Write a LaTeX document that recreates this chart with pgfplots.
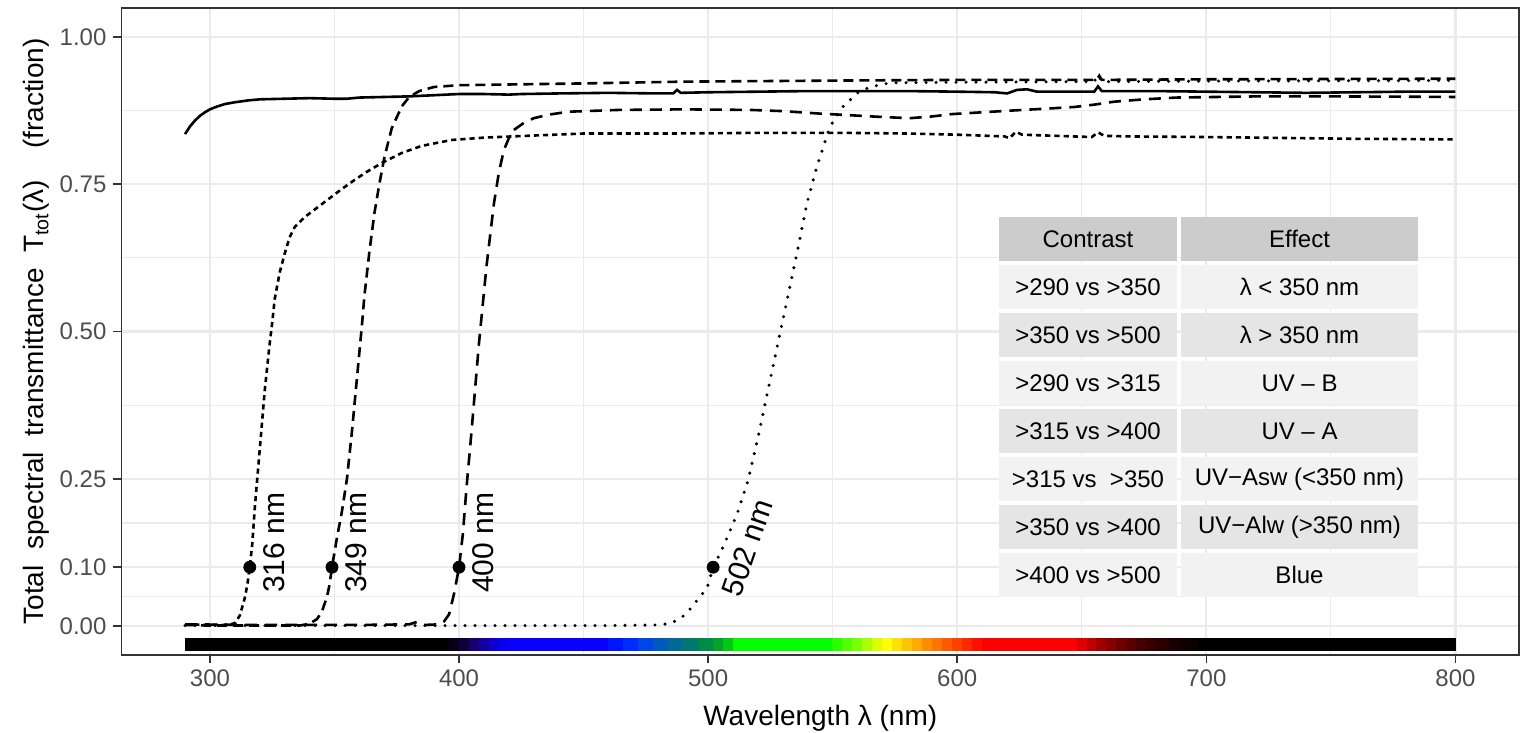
\documentclass[border=0pt]{standalone}
\usepackage{fontspec}
\setmainfont{Liberation Sans}
\usepackage{pgfplots}
\pgfplotsset{compat=1.18}
\definecolor{grey20}{gray}{0.2}
\definecolor{grey30}{gray}{0.302}
\definecolor{grey92}{gray}{0.922}
\definecolor{grey80}{gray}{0.8}
\definecolor{grey90}{gray}{0.898}
\definecolor{grey95}{gray}{0.949}
% one coloured piece of the wavelength bar: from, to, R, G, B
\newcommand\band[5]{\addplot[forget plot, line width=0.3pt, draw={rgb,255:red,#3;green,#4;blue,#5}, fill={rgb,255:red,#3;green,#4;blue,#5}] coordinates {(#1,-0.0204) (#2,-0.0204) (#2,-0.0408) (#1,-0.0408)} -- cycle;}
\begin{document}
\begin{tikzpicture}
\useasboundingbox (-60.75pt,-39pt) rectangle (699.25pt,327.5pt);
\begin{axis}[
  scale only axis, width=698.75pt, height=323.5pt,
  xmin=264.5, xmax=825.5, ymin=-0.049, ymax=1.049,
  xtick={300,400,...,800},
  minor xtick={350,450,...,750},
  ytick={0,0.1,0.25,0.5,0.75,1},
  yticklabels={0.00,0.10,0.25,0.50,0.75,1.00},
  minor ytick={0.05,0.175,0.375,0.625,0.875},
  grid=both,
  major grid style={grey92, line width=1.1pt},
  minor grid style={grey92, line width=0.55pt},
  axis line style={grey20, line width=0.8pt},
  tick pos=left, tick align=outside,
  major tick length=4pt, minor tick length=0pt,
  tick style={grey20, line width=0.8pt},
  ticklabel style={font=\fontsize{12}{14}\selectfont, text=grey30},
  /pgf/number format/assume math mode=true,
  xlabel={Wavelength λ (nm)},
  ylabel={Total\ \ spectral\ \ transmittance\ \ T\textsubscript{tot}(λ)\ \ \ \ (fraction)},
  label style={font=\fontsize{14}{16}\selectfont},
  xlabel style={at={(axis description cs:0.5,-0.1082)}, anchor=base},
  ylabel style={at={(axis description cs:-0.0555,0.5)}, anchor=base},
]
% wavelength colour bar
\band{290}{800}{0}{0}{0}
\band{396}{400}{8}{0}{25}
\band{400}{404}{15}{0}{60}
\band{404}{408}{20}{0}{110}
\band{408}{412}{20}{0}{160}
\band{412}{416}{15}{0}{210}
\band{416}{420}{10}{0}{240}
\band{420}{460}{10}{0}{255}
\band{460}{466}{0}{20}{255}
\band{466}{472}{0}{45}{255}
\band{472}{478}{0}{70}{230}
\band{478}{484}{0}{90}{190}
\band{484}{490}{0}{105}{150}
\band{490}{496}{0}{120}{110}
\band{496}{502}{0}{140}{70}
\band{502}{506}{0}{165}{40}
\band{506}{510}{0}{200}{20}
\band{510}{550}{0}{255}{0}
\band{550}{554}{40}{255}{0}
\band{554}{558}{80}{255}{0}
\band{558}{562}{120}{255}{0}
\band{562}{566}{170}{255}{0}
\band{566}{570}{220}{255}{0}
\band{570}{574}{255}{255}{0}
\band{574}{578}{255}{225}{0}
\band{578}{582}{255}{195}{0}
\band{582}{586}{255}{170}{0}
\band{586}{590}{255}{140}{0}
\band{590}{594}{255}{115}{0}
\band{594}{598}{255}{90}{0}
\band{598}{602}{255}{65}{0}
\band{602}{606}{255}{40}{0}
\band{606}{610}{255}{15}{0}
\band{610}{648}{255}{0}{0}
\band{648}{652}{220}{0}{0}
\band{652}{656}{190}{0}{0}
\band{656}{660}{160}{0}{0}
\band{660}{664}{135}{0}{0}
\band{664}{668}{110}{0}{0}
\band{668}{672}{90}{0}{0}
\band{672}{676}{70}{0}{0}
\band{676}{680}{55}{0}{0}
\band{680}{685}{40}{0}{0}
\band{685}{690}{25}{0}{0}
\band{690}{696}{12}{0}{0}

% >290
\addplot[black, line width=1.3pt] coordinates {(290,0.835) (292,0.848) (294,0.858) (296,0.866) (298,0.872) (300,0.877) (303,0.882) (306,0.886) (310,0.889) (315,0.892) (320,0.894) (330,0.895) (340,0.896) (350,0.895) (355,0.895) (360,0.897) (370,0.898) (380,0.899) (390,0.901) (400,0.903) (410,0.903) (420,0.902) (425,0.903) (440,0.904) (460,0.905) (480,0.904) (486,0.904) (487.5,0.910) (489,0.905) (500,0.906) (520,0.907) (540,0.908) (560,0.908) (580,0.908) (600,0.907) (615,0.906) (620,0.904) (624,0.910) (628,0.911) (632,0.907) (645,0.907) (655,0.907) (656.5,0.916) (658,0.908) (680,0.908) (700,0.907) (720,0.906) (740,0.905) (760,0.906) (780,0.907) (800,0.907)};
% >315
\addplot[black, line width=1.3pt, dash pattern=on 2.6pt off 2pt] coordinates {(290,0.003) (300,0.002) (305,0.002) (308,0.003) (310,0.005) (312,0.018) (314,0.048) (315,0.07) (316,0.1) (317,0.14) (318,0.2) (319,0.25) (320,0.30) (321,0.35) (322,0.40) (323,0.44) (324,0.48) (325,0.515) (326,0.555) (328,0.60) (330,0.632) (332,0.66) (334,0.677) (338,0.694) (343,0.710) (348,0.726) (353,0.742) (358,0.757) (363,0.771) (369,0.786) (377,0.803) (385,0.815) (397,0.825) (410,0.829) (421,0.831) (450,0.836) (486,0.836) (517,0.837) (557,0.837) (580,0.836) (600,0.834) (619,0.831) (621,0.828) (623.5,0.839) (626,0.834) (640,0.832) (654,0.830) (656.5,0.838) (659,0.832) (670,0.831) (700,0.830) (720,0.829) (760,0.827) (800,0.826)};
% >350
\addplot[black, line width=1.3pt, dash pattern=on 5pt off 3pt] coordinates {(290,0.002) (300,0.001) (320,0.001) (336,0.001) (340,0.004) (343,0.012) (345,0.025) (347,0.05) (348,0.07) (349,0.1) (350,0.125) (351,0.15) (353,0.195) (355,0.25) (357,0.33) (359,0.42) (361,0.51) (362,0.56) (364,0.635) (366,0.70) (368,0.75) (370,0.795) (373,0.845) (377,0.882) (380,0.898) (384,0.908) (390,0.915) (400,0.918) (450,0.921) (490,0.924) (557,0.926) (600,0.927) (656,0.927) (657,0.934) (658,0.927) (700,0.928) (800,0.929)};
% >400
\addplot[black, line width=1.3pt, dash pattern=on 6pt off 4pt] coordinates {(290,0.003) (320,0.002) (360,0.002) (380,0.003) (383,0.007) (386,0.002) (392,0.003) (394,0.008) (396,0.02) (398,0.055) (400,0.1) (401.5,0.155) (403,0.235) (405,0.33) (408,0.48) (411,0.61) (414,0.717) (416,0.77) (418,0.808) (420,0.828) (422,0.842) (426,0.854) (430,0.862) (436,0.868) (444,0.873) (464,0.876) (490,0.877) (517,0.876) (530,0.874) (544,0.870) (557,0.867) (570,0.864) (581,0.862) (590,0.865) (598,0.869) (610,0.872) (622,0.875) (635,0.878) (647,0.881) (655,0.885) (663,0.890) (675,0.894) (688,0.897) (720,0.899) (752,0.899) (800,0.898)};
% >500
\addplot[black, line width=1.7pt, line cap=round, dash pattern=on 0pt off 5pt] coordinates {(290,0.001) (350,0.001) (400,0.001) (460,0.001) (480,0.002) (484,0.004) (487,0.009) (490,0.017) (493,0.03) (496,0.046) (499.6,0.065) (502,0.1) (505,0.125) (507.6,0.15) (511.6,0.19) (516,0.247) (520,0.32) (524,0.40) (528,0.48) (532,0.56) (536,0.64) (539.6,0.717) (543.6,0.779) (548.8,0.847) (554,0.881) (557,0.893) (560,0.905) (565,0.915) (573,0.922) (600,0.923) (650,0.924) (655,0.924) (656.5,0.935) (658,0.924) (700,0.925) (800,0.926)};
% cut-off points
\addplot[only marks, mark=*, mark size=3pt, black] coordinates {(316,0.1) (349,0.1) (400,0.1) (502,0.1)};
\node[xshift=17.5pt, yshift=-13pt, rotate=90, anchor=south west, inner sep=0pt, font=\fontsize{15}{18}\selectfont] at (axis cs:316,0.1) {316 nm};
\node[xshift=17.5pt, yshift=-13pt, rotate=90, anchor=south west, inner sep=0pt, font=\fontsize{15}{18}\selectfont] at (axis cs:349,0.1) {349 nm};
\node[xshift=17.5pt, yshift=-13pt, rotate=90, anchor=south west, inner sep=0pt, font=\fontsize{15}{18}\selectfont] at (axis cs:400,0.1) {400 nm};
\node[xshift=14pt, yshift=-16pt, rotate=71, anchor=south west, inner sep=0pt, font=\fontsize{15}{18}\selectfont] at (axis cs:502,0.1) {502 nm};
\end{axis}
% table of contrasts, in pixel units of the reference
\begin{scope}[x=0.5pt, y=-0.5pt, shift={(-60.75pt,327.5pt)}, every node/.style={font=\fontsize{12}{14}\selectfont}]
\fill[grey80] (999,217) rectangle (1177,261.5);
\fill[grey80] (1181,217) rectangle (1418,261.5);
\node at (1088,239.25) {Contrast};
\node at (1299.5,239.25) {Effect};
\foreach \i/\a/\b in {1/{>290 vs >350}/{λ < 350 nm}, 2/{>350 vs >500}/{λ > 350 nm}, 3/{>290 vs >315}/{UV – B}, 4/{>315 vs >400}/{UV – A}, 5/{>315 vs\ \ >350}/{UV−Asw (<350 nm)}, 6/{>350 vs >400}/{UV−Alw (>350 nm)}, 7/{>400 vs >500}/{Blue}}{
  \pgfmathsetmacro\rt{217+48*\i}
  \pgfmathsetmacro\rb{\rt+44.5}
  \pgfmathsetmacro\rm{\rt+22.25}
  \ifodd\i \def\fc{grey95}\else \def\fc{grey90}\fi
  \fill[\fc] (999,\rt) rectangle (1177,\rb);
  \fill[\fc] (1181,\rt) rectangle (1418,\rb);
  \node at (1088,\rm) {\a};
  \node at (1299.5,\rm) {\b};
}
\end{scope}
\end{tikzpicture}
\end{document}
